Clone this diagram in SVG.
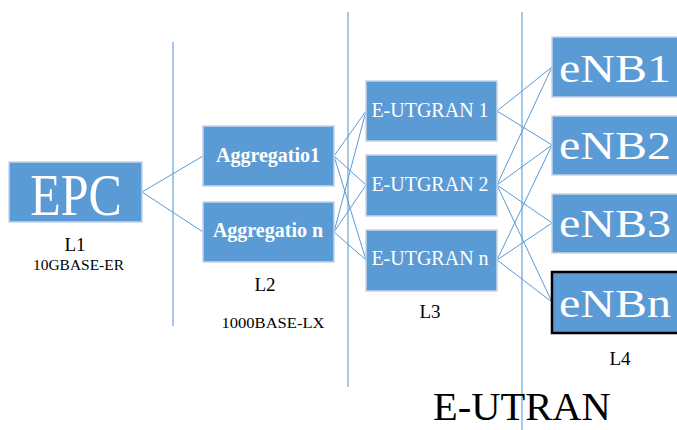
<svg xmlns="http://www.w3.org/2000/svg" width="677" height="430" viewBox="0 0 677 430">
  <style>
    .box { fill: #5b9bd5; stroke: #c5d5ea; stroke-width: 1.5; }
    .lbl { fill: #ffffff; font-family: "Liberation Serif", "Times New Roman", serif; }
    .bold { font-weight: bold; }
    .cap { fill: #000000; font-family: "Liberation Serif", "Times New Roman", serif; }
    .link { stroke: #5b9bd5; stroke-width: 1; fill: none; }
    .divider { stroke: #9dc3e6; stroke-width: 1.8; }
  </style>
  <rect width="677" height="430" fill="#ffffff"/>

  <!-- layer dividers -->
  <g id="dividers">
    <line class="divider" x1="173" y1="42" x2="173" y2="326"/>
    <line class="divider" x1="348" y1="12" x2="348" y2="387"/>
    <line class="divider" x1="522" y1="12" x2="522" y2="430"/>
  </g>

  <!-- connectors -->
  <g id="connectors">
    <line class="link" x1="142" y1="192" x2="203" y2="156"/>
    <line class="link" x1="142" y1="192" x2="203" y2="232"/>

    <line class="link" x1="334" y1="156" x2="366" y2="111"/>
    <line class="link" x1="334" y1="156" x2="366" y2="185"/>
    <line class="link" x1="334" y1="156" x2="366" y2="260"/>
    <line class="link" x1="334" y1="232" x2="366" y2="111"/>
    <line class="link" x1="334" y1="232" x2="366" y2="185"/>
    <line class="link" x1="334" y1="232" x2="366" y2="260"/>

    <line class="link" x1="497" y1="111" x2="552" y2="67"/>
    <line class="link" x1="497" y1="111" x2="552" y2="145"/>
    <line class="link" x1="497" y1="185" x2="552" y2="67"/>
    <line class="link" x1="497" y1="185" x2="552" y2="145"/>
    <line class="link" x1="497" y1="185" x2="552" y2="223"/>
    <line class="link" x1="497" y1="185" x2="552" y2="302"/>
    <line class="link" x1="497" y1="260" x2="552" y2="145"/>
    <line class="link" x1="497" y1="260" x2="552" y2="223"/>
    <line class="link" x1="497" y1="260" x2="552" y2="302"/>
  </g>

  <!-- core -->
  <g id="epc">
    <rect class="box" x="9" y="162" width="133" height="60"/>
    <text class="lbl" font-size="50" text-anchor="middle" transform="translate(76,215) scale(1,1.2)">EPC</text>
  </g>

  <!-- aggregation layer -->
  <g id="agg1">
    <rect class="box" x="203" y="126" width="131" height="60"/>
    <text class="lbl bold" x="268" y="162" font-size="20" text-anchor="middle">Aggregatio1</text>
  </g>
  <g id="aggn">
    <rect class="box" x="203" y="202" width="131" height="60"/>
    <text class="lbl bold" x="268" y="237" font-size="20" text-anchor="middle">Aggregatio n</text>
  </g>

  <!-- access layer -->
  <g id="eutgran1">
    <rect class="box" x="366" y="81" width="131" height="60"/>
    <text class="lbl" x="430" y="117" font-size="20" text-anchor="middle">E-UTGRAN 1</text>
  </g>
  <g id="eutgran2">
    <rect class="box" x="366" y="155" width="131" height="61"/>
    <text class="lbl" x="430" y="191" font-size="20" text-anchor="middle">E-UTGRAN 2</text>
  </g>
  <g id="eutgrann">
    <rect class="box" x="366" y="230" width="131" height="61"/>
    <text class="lbl" x="430" y="265" font-size="20" text-anchor="middle">E-UTGRAN n</text>
  </g>

  <!-- base stations -->
  <g id="enb1">
    <rect class="box" x="552" y="37" width="140" height="60"/>
    <text class="lbl" font-size="48" transform="translate(559,82) scale(1,0.85)">eNB1</text>
  </g>
  <g id="enb2">
    <rect class="box" x="552" y="116" width="140" height="59"/>
    <text class="lbl" font-size="48" transform="translate(559,159) scale(1,0.85)">eNB2</text>
  </g>
  <g id="enb3">
    <rect class="box" x="552" y="194" width="140" height="59"/>
    <text class="lbl" font-size="48" transform="translate(559,237) scale(1,0.85)">eNB3</text>
  </g>
  <g id="enbn">
    <rect x="552" y="272" width="140" height="61" fill="#5b9bd5" stroke="#000000" stroke-width="2.5"/>
    <text class="lbl" font-size="48" transform="translate(559,317) scale(1,0.85)">eNBn</text>
  </g>

  <!-- layer captions -->
  <g id="captions">
    <text class="cap" x="75" y="251" font-size="19" text-anchor="middle">L1</text>
    <text class="cap" x="78.5" y="270" font-size="15" text-anchor="middle" textLength="91" lengthAdjust="spacingAndGlyphs">10GBASE-ER</text>
    <text class="cap" x="265" y="291" font-size="19" text-anchor="middle">L2</text>
    <text class="cap" x="273" y="328" font-size="15.5" text-anchor="middle" textLength="103" lengthAdjust="spacingAndGlyphs">1000BASE-LX</text>
    <text class="cap" x="430" y="318" font-size="19" text-anchor="middle">L3</text>
    <text class="cap" x="620" y="365" font-size="19" text-anchor="middle">L4</text>
    <text class="cap" x="433" y="420" font-size="40.5">E-UTRAN</text>
  </g>
</svg>
